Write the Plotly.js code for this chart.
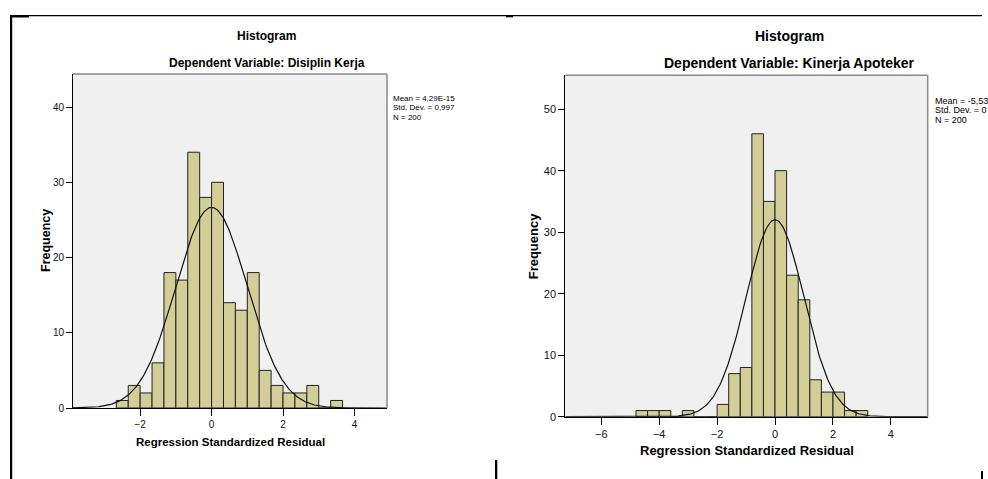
<!DOCTYPE html>
<html><head><meta charset="utf-8">
<script src="https://cdn.plot.ly/plotly-3.0.1.min.js"></script>
<style>html,body{margin:0;padding:0;background:#fff}</style>
</head><body><div id="chart" style="width:988px;height:479px"></div>
<script>
// ---- data ----
const leftBinStart = -2.667;
const leftBinWidth = 0.3333;
const leftCounts = [1,3,2,6,18,17,34,28,30,14,13,18,5,3,2,2,3,0,1];
const leftMean = 4.29e-15, leftSD = 0.997, leftN = 200;
const leftStatLines = ["Mean = 4,29E-15", "Std. Dev. = 0,997", "N = 200"];
const leftTitles = ["Histogram", "Dependent Variable: Disiplin Kerja"];

const rightBinStart = -4.8;
const rightBinWidth = 0.4;
const rightCounts = [1,1,1,0,1,0,0,2,7,8,46,35,40,23,19,6,4,4,1,1];
const rightMean = 0, rightSD = 0.997, rightN = 200;
const rightStatLines = ["Mean = -5,53", "Std. Dev. = 0", "N = 200"];
const rightTitles = ["Histogram", "Dependent Variable: Kinerja Apoteker"];

const xAxisTitle = "Regression Standardized Residual";
const yAxisTitle = "Frequency";

// ---- layout helpers ----
const W = 988, H = 479;
const px = v => v / W;
const py = v => 1 - v / H;
const FONT = "Liberation Sans, Arial, sans-serif";
const BAR = "#d3ce97";

const L = {x0: 73, x1: 387, y0: 74, y1: 408, xr: [-3.88, 4.91], yr: [0, 44.4]};
const R = {x0: 565.3, x1: 927.7, y0: 75.3, y1: 416.7, xr: [-7.24, 5.27], yr: [0, 55.5]};

function centers(start, w, counts) { return counts.map((_, i) => start + (i + 0.5) * w); }
function normalCurve(mean, sd, n, w, range) {
  const xs = [], ys = [];
  const steps = 300;
  for (let i = 0; i <= steps; i++) {
    const x = range[0] + (range[1] - range[0]) * i / steps;
    xs.push(x);
    ys.push(n * w / (sd * Math.sqrt(2 * Math.PI)) * Math.exp(-0.5 * Math.pow((x - mean) / sd, 2)));
  }
  return {xs, ys};
}

const cL = normalCurve(leftMean, leftSD, leftN, leftBinWidth, L.xr);
const cR = normalCurve(rightMean, rightSD, rightN, rightBinWidth, R.xr);

const data = [
  {type: "bar", x: centers(leftBinStart, leftBinWidth, leftCounts), y: leftCounts, width: leftBinWidth,
   marker: {color: BAR, line: {color: "#222", width: 1}}, xaxis: "x", yaxis: "y"},
  {type: "scatter", mode: "lines", x: cL.xs, y: cL.ys, line: {color: "#111", width: 1.2}, xaxis: "x", yaxis: "y"},
  {type: "bar", x: centers(rightBinStart, rightBinWidth, rightCounts), y: rightCounts, width: rightBinWidth,
   marker: {color: BAR, line: {color: "#222", width: 1}}, xaxis: "x2", yaxis: "y2"},
  {type: "scatter", mode: "lines", x: cR.xs, y: cR.ys, line: {color: "#111", width: 1.2}, xaxis: "x2", yaxis: "y2"}
];

function xax(P, anchor, fs) {
  return {domain: [px(P.x0), px(P.x1)], range: P.xr, anchor, tick0: 0, dtick: 2, ticks: "outside", ticklen: 7,
    tickcolor: "#000", tickwidth: 1, showline: true, linecolor: "#000", linewidth: 1, showgrid: false, zeroline: false,
    tickfont: {family: FONT, size: fs, color: "#111"}, fixedrange: true};
}
function yax(P, anchor, fs) {
  return {domain: [py(P.y1), py(P.y0)], range: P.yr, anchor, tick0: 0, dtick: 10, ticks: "outside", ticklen: 6,
    tickcolor: "#000", tickwidth: 1, showline: true, linecolor: "#000", linewidth: 1, showgrid: false, zeroline: false,
    tickfont: {family: FONT, size: fs, color: "#111"}, fixedrange: true};
}

function ann(text, x, y, size, bold, opts) {
  return Object.assign({text, x: px(x), y: py(y), xref: "paper", yref: "paper", showarrow: false,
    xanchor: "center", yanchor: "middle",
    font: {family: FONT, size, color: "#000", weight: bold ? "bold" : "normal"}}, opts || {});
}

const annotations = [
  ann(leftTitles[0], 266.7, 36, 12, true),
  ann(leftTitles[1], 266.8, 62.7, 12, true),
  ann(rightTitles[0], 789.5, 36, 14, true),
  ann(rightTitles[1], 789.5, 63.3, 14, true),
  ann(xAxisTitle, 230, 441.7, 11.5, true),
  ann(xAxisTitle, 746.6, 450.7, 13, true),
  ann(yAxisTitle, 46, 241, 12.5, true, {textangle: -90}),
  ann(yAxisTitle, 533.3, 246, 13, true, {textangle: -90}),
];
[98, 108, 117.5].forEach((y, i) => annotations.push(ann(leftStatLines[i], 391, y, 8, false, {xanchor: "left"})));
[100.5, 110.5, 120].forEach((y, i) => annotations.push(ann(rightStatLines[i], 933, y, 9, false, {xanchor: "left"})));

function frame(xref, yref) {
  return [
    {type: "line", xref: xref + " domain", yref: yref + " domain", x0: 0, x1: 1, y0: 1, y1: 1, line: {color: "#8a8a8a", width: 1.5}, layer: "above"},
    {type: "line", xref: xref + " domain", yref: yref + " domain", x0: 1, x1: 1, y0: 0, y1: 1, line: {color: "#8a8a8a", width: 1.5}, layer: "above"}
  ];
}
function prect(x0, y0, x1, y1) {
  return {type: "rect", xref: "paper", yref: "paper", x0: px(x0), x1: px(x1), y0: py(y1), y1: py(y0),
    fillcolor: "#000", line: {width: 0}, layer: "above"};
}
const shapes = [
  ...frame("x", "y"), ...frame("x2", "y2"),
  prect(10, 15, 982, 16.2),
  prect(10, 15, 29, 17.5),
  prect(10, 15, 12.2, 479),
  prect(506, 15, 513, 17.3),
  prect(495, 460, 497.3, 479),
  prect(981, 471, 983, 479)
];

const layout = {
  width: W, height: H, margin: {l: 0, r: 0, t: 0, b: 0},
  paper_bgcolor: "#fff", plot_bgcolor: "#f0f0f0",
  showlegend: false, hovermode: false, bargap: 0,
  xaxis: xax(L, "y", 10), yaxis: yax(L, "x", 10),
  xaxis2: xax(R, "y2", 11), yaxis2: yax(R, "x2", 11),
  annotations, shapes
};

Plotly.newPlot("chart", data, layout, {staticPlot: true, displayModeBar: false});
</script></body></html>
